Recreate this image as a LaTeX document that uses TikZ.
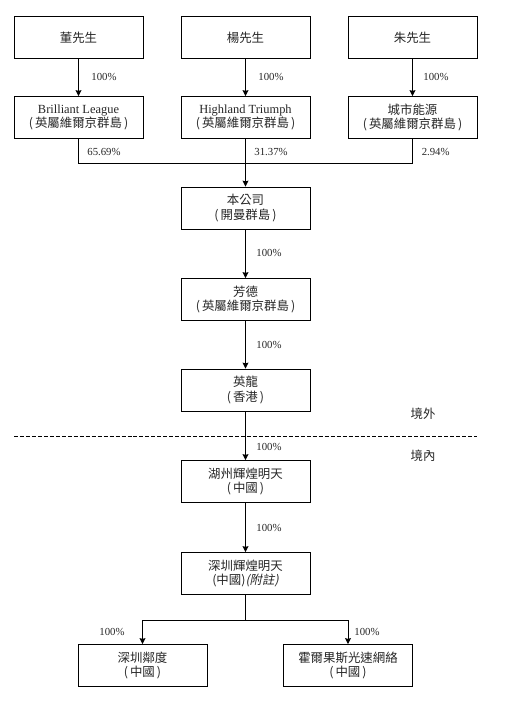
\documentclass[tikz,border=0pt]{standalone}
\usepackage{fontspec}
\setmainfont{Liberation Serif}
\newfontfamily\cjk{Noto Sans CJK TC}
\newfontfamily\cjkslant[FakeSlant=0.2]{Noto Sans CJK TC}
\usetikzlibrary{arrows.meta}

\newcommand{\seat}[1]{(\,#1\,)}

\tikzset{
    entity/.style={draw, fill=white, align=center, inner sep=0pt, minimum width=3.87cm, minimum height=1.26cm, text=black!85, font=\fontsize{10.6}{12.2}\selectfont\cjk},
    share/.style={text=black!85, font=\fontsize{9.2}{11}\selectfont},
    region/.style={text=black!85, font=\fontsize{10.6}{12.2}\selectfont\cjk},
    own/.style={-{Stealth[length=5pt, width=5pt, inset=0.6pt]}}
}

\begin{document}
\begin{tikzpicture}[line width=0.8pt]
            \useasboundingbox (0,0) rectangle (15.36,-21.21);
            % Shareholders
            \node[entity] (dong) at (2.355,-1.125) {董先生};
            \node[entity] (yang) at (7.365,-1.125) {楊先生};
            \node[entity] (zhu) at (12.375,-1.125) {朱先生};

            % Holding companies
            \node[entity] (brilliant) at (2.355,-3.525) {{\rmfamily Brilliant League}\\\seat{英屬維爾京群島}};
            \node[entity] (highland) at (7.365,-3.525) {{\rmfamily Highland Triumph}\\\seat{英屬維爾京群島}};
            \node[entity] (city) at (12.375,-3.525) {城市能源\\\seat{英屬維爾京群島}};

            % Group chain
            \node[entity] (company) at (7.365,-6.24) {本公司\\\seat{開曼群島}};
            \node[entity] (fangde) at (7.365,-8.985) {芳德\\\seat{英屬維爾京群島}};
            \node[entity] (yinglong) at (7.365,-11.7) {英龍\\\seat{香港}};
            \node[entity] (huzhou) at (7.365,-14.445) {湖州輝煌明天\\\seat{中國}};
            \node[entity] (shenzhen) at (7.365,-17.205) {深圳輝煌明天\\(中國){\cjkslant(附註)}};
            \node[entity] (youdu) at (4.275,-19.965) {深圳鄰度\\\seat{中國}};
            \node[entity] (horgos) at (10.44,-19.965) {霍爾果斯光速網絡\\\seat{中國}};

            % Junctions
            \coordinate (join) at (7.365,-4.89);
            \coordinate (split) at (7.365,-18.6);
            \coordinate (borderl) at (0.42,-13.08);
            \coordinate (borderr) at (14.31,-13.08);

            % Border
            \draw[dash pattern=on 3.4pt off 1.7pt] (borderl) -- (borderr);
            \node[region] (abroad) at (12.69,-12.42) {境外};
            \node[region] (domestic) at (12.69,-13.67) {境內};

            % Ownership
            \draw[own] (dong) -- (brilliant);
            \draw[own] (yang) -- (highland);
            \draw[own] (zhu) -- (city);
            \draw (brilliant.south) |- (join);
            \draw (city.south) |- (join);
            \draw[own] (highland) -- (company);
            \draw[own] (company) -- (fangde);
            \draw[own] (fangde) -- (yinglong);
            \draw[own] (yinglong) -- (huzhou);
            \draw[own] (huzhou) -- (shenzhen);
            \draw (shenzhen) -- (split);
            \draw[own] (split) -| (youdu.north);
            \draw[own] (split) -| (horgos.north);

            % Percentages
            \node[share] (p1) at (3.12,-2.31) {100\%};
            \node[share] (p2) at (8.13,-2.31) {100\%};
            \node[share] (p3) at (13.08,-2.31) {100\%};
            \node[share] (p4) at (3.12,-4.56) {65.69\%};
            \node[share] (p5) at (8.13,-4.56) {31.37\%};
            \node[share] (p6) at (13.07,-4.56) {2.94\%};
            \node[share] (p7) at (8.07,-7.59) {100\%};
            \node[share] (p8) at (8.07,-10.35) {100\%};
            \node[share] (p9) at (8.07,-13.41) {100\%};
            \node[share] (p10) at (8.07,-15.84) {100\%};
            \node[share] (p11) at (3.36,-18.96) {100\%};
            \node[share] (p12) at (11.01,-18.96) {100\%};
        \end{tikzpicture}
\end{document}
